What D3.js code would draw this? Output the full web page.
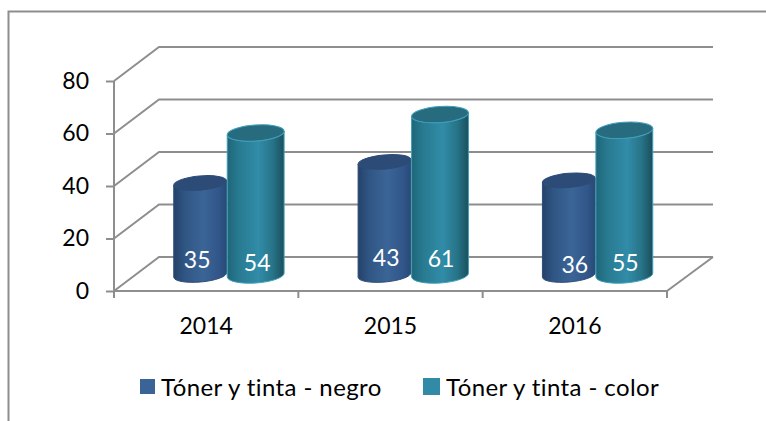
<!DOCTYPE html>
<html><head><meta charset="utf-8">
<script src="https://cdn.jsdelivr.net/npm/d3@7/dist/d3.min.js"></script>
<style>html,body{margin:0;padding:0;background:#fff}svg{display:block}</style>
</head><body><div id="chart"></div>
<script>
const categories = ["2014", "2015", "2016"];
const seriesNames = ["Tóner y tinta - negro", "Tóner y tinta - color"];
const negro = [35, 43, 36];
const color = [54, 61, 55];
const yTicks = [0, 20, 40, 60, 80];

const W = 766, H = 421;
const FONT = "Lato, 'Open Sans', sans-serif";
const GRID = "#8e8e8e";
const depth = {x: 45, y: -34};

const svg = d3.select("#chart").append("svg").attr("width", W).attr("height", H);
const defs = svg.append("defs");

const x = d3.scaleBand().domain(categories).range([114, 667]);
const yFront = d3.scaleLinear().domain([0, 80]).range([291, 81]);
const yBar = d3.scaleLinear().domain([0, 80]).range([275, 64.6]);

function grad(id, stops) {
  const g = defs.append("linearGradient").attr("id", id).attr("x1", 0).attr("x2", 1).attr("y1", 0).attr("y2", 0);
  stops.forEach(s => g.append("stop").attr("offset", s[0]).attr("stop-color", s[1]));
}
grad("gNegro", [[0, "#24426a"], [0.2, "#2f5583"], [0.55, "#3b6597"], [0.85, "#31568a"], [1, "#284a76"]]);
grad("gColor", [[0, "#1f6678"], [0.2, "#287a90"], [0.55, "#318ca8"], [0.8, "#277488"], [1, "#1a4f5e"]]);

// frame
svg.append("path").attr("d", `M8.5,${H} V11.5 H${W}`).attr("fill", "none").attr("stroke", GRID).attr("stroke-width", 2);

// walls and floor
const wall = svg.append("g").attr("fill", "none").attr("stroke", GRID).attr("stroke-width", 2);
yTicks.forEach(t => {
  const y0 = yFront(t);
  wall.append("path").attr("d", `M114,${y0} L${114 + depth.x},${y0 + depth.y} H713`);
});
wall.append("path").attr("d", `M667,291 L713,${291 + depth.y}`);

// axes
const axisL = d3.axisLeft(yFront).tickValues(yTicks).tickSize(8).tickPadding(17);
const gL = svg.append("g").attr("transform", "translate(114,0)").call(axisL);
const axisB = d3.axisBottom(x).tickSize(7).tickPadding(20).tickSizeOuter(7);
const gB = svg.append("g").attr("transform", "translate(0,291)").call(axisB);
// bottom ticks belong on band edges
gB.selectAll(".tick line").remove();
[0, 1, 2, 3].forEach(i => gB.append("line").attr("x1", 114 + i * x.step()).attr("x2", 114 + i * x.step()).attr("y1", 0).attr("y2", 7));
[gL, gB].forEach(g => {
  g.selectAll("path.domain").attr("stroke", GRID).attr("stroke-width", 2);
  g.selectAll("line").attr("stroke", GRID).attr("stroke-width", 2);
  g.selectAll("text").attr("fill", "#000").style("font-family", FONT).style("font-size", "23px");
});
gL.selectAll("path.domain").attr("d", "M0,81V291");
gB.selectAll("path.domain").attr("d", `M114,0H667`);

// cylinders
const series = [
  {name: seriesNames[0], values: negro, off: -6, w: 26.5, rot: 5, ry: 7, fill: "url(#gNegro)", cap: "#2c4b76", rim: "#2c4b76", swatch: "#3a6495"},
  {name: seriesNames[1], values: color, off: 49.5, w: 28.5, rot: 4, ry: 8, fill: "url(#gColor)", cap: "#276b7e", rim: "#3f9fb8", swatch: "#318ba6"}
];
const labelDy = [[-15, -17, -10], [-12, -16, -12]];
const labelDx = [[-3, 1.7, 6], [1.5, 1, 1]];

series.forEach((s, si) => {
  s.values.forEach((v, i) => {
    const cx = x(categories[i]) + x.bandwidth() / 2 + s.off;
    const top = yBar(v), bot = yBar(0);
    const a = s.rot * Math.PI / 180;
    const dx = s.w * Math.cos(a), dy = s.w * Math.sin(a);
    const g = svg.append("g");
    g.append("path")
      .attr("d", `M${cx - dx},${top + dy} L${cx - dx},${bot + dy} A${s.w},${s.ry} ${-s.rot} 0 0 ${cx + dx},${bot - dy} L${cx + dx},${top - dy} A${s.w},${s.ry} ${-s.rot} 0 1 ${cx - dx},${top + dy} Z`)
      .attr("fill", s.fill)
      .attr("stroke", s.rim).attr("stroke-width", 1);
    g.append("ellipse")
      .attr("cx", cx).attr("cy", top).attr("rx", s.w).attr("ry", s.ry)
      .attr("transform", `rotate(${-s.rot} ${cx} ${top})`)
      .attr("fill", s.cap).attr("stroke", s.rim).attr("stroke-width", 1);
  });
});
// labels
series.forEach((s, si) => {
  s.values.forEach((v, i) => {
    const cx = x(categories[i]) + x.bandwidth() / 2 + s.off + labelDx[si][i];
    svg.append("text").attr("x", cx).attr("y", yBar(0) + labelDy[si][i])
      .attr("text-anchor", "middle").attr("dy", "0.36em")
      .attr("fill", "#fff").style("font-family", FONT).style("font-size", "23px").text(v);
  });
});

// legend
const legendX = [140, 423], legendW = [15, 17];
series.forEach((s, i) => {
  svg.append("rect").attr("x", legendX[i]).attr("y", 386.5 - legendW[i] / 2)
    .attr("width", legendW[i]).attr("height", legendW[i]).attr("fill", s.swatch);
  svg.append("text").attr("x", legendX[i] + legendW[i] + 6).attr("y", 387).attr("dy", "0.36em")
    .attr("fill", "#000").style("font-family", FONT).style("font-size", "24px").style("letter-spacing", "0.4px").text(s.name);
});
</script></body></html>
